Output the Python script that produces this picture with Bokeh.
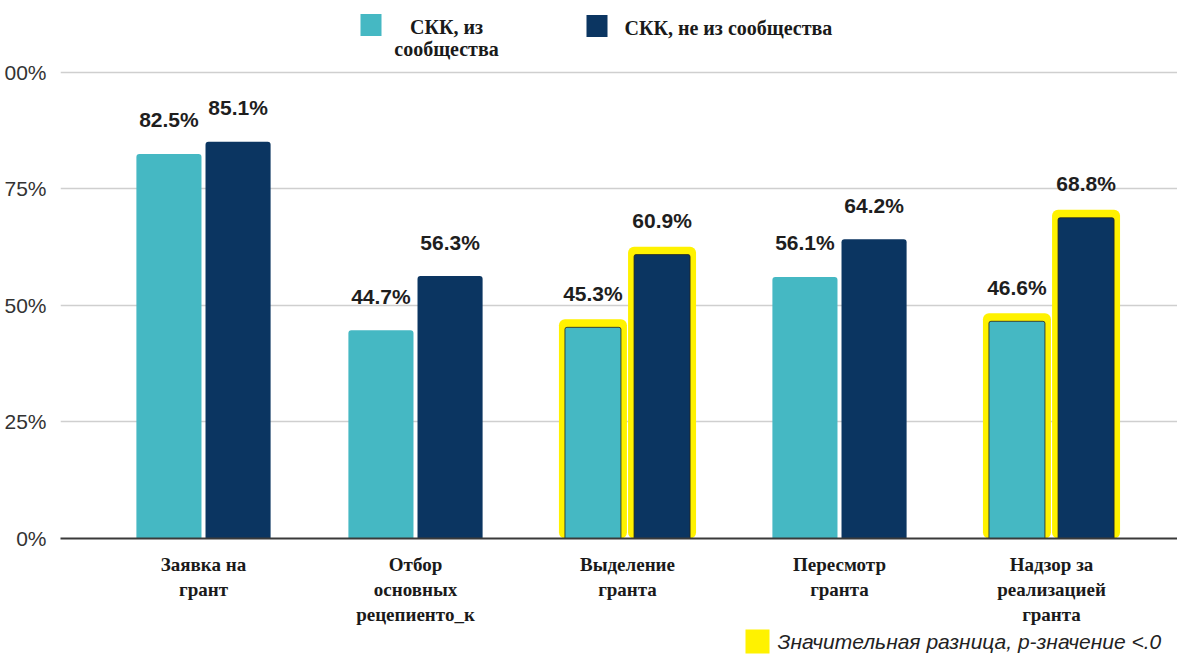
import numpy as np
from bokeh.plotting import figure
from bokeh.layouts import column
from bokeh.models import (ColumnDataSource, Range1d, FixedTicker, LabelSet, Label)
from bokeh.core.properties import value
from bokeh.embed import file_html
from bokeh.resources import INLINE

# ---- data ----
categories = ["Заявка на\nгрант", "Отбор\nосновных\nрецепиенто_к", "Выделение\nгранта",
              "Пересмотр\nгранта", "Надзор за\nреализацией\nгранта"]
community = [82.5, 44.7, 45.3, 56.1, 46.6]
non_community = [85.1, 56.3, 60.9, 64.2, 68.8]
significant = [False, False, True, False, True]
series_names = ["СКК, из\nсообщества", "СКК, не из сообщества"]
y_ticks = [0, 25, 50, 75, 100]
y_tick_labels = ["0%", "25%", "50%", "75%", "00%"]
note_text = "Значительная разница, p-значение <.0"

TEAL = "#45B8C3"
NAVY = "#0B3561"
YELLOW = "#FFF200"

W = 1177
H = 627             # main chart height
NH = 27             # note strip height
PX = 212.0          # pixels per category unit
PY = 4.67           # pixels per percent
LEFT, BOTTOM = 60, 88
X0 = 203            # pixel of first category centre

p = figure(width=W, height=H, output_backend="svg", toolbar_location=None,
           x_range=Range1d((LEFT - X0) / PX, (W - X0) / PX),
           y_range=Range1d(0, (H - BOTTOM) / PY),
           min_border_left=LEFT, min_border_right=0, min_border_top=0,
           min_border_bottom=BOTTOM)
p.outline_line_color = None
p.background_fill_color = "white"
p.border_fill_color = "white"

idx = np.arange(len(categories))
dodge = 0.163
bw = 0.307
xc = idx - dodge
xn = idx + dodge

# plain bars (non-significant groups) and highlighted bars (significant groups)
plain = dict(x=[], top=[], color=[])
hl = dict(x=[], top=[], color=[], ytop=[])
for i, s in enumerate(significant):
    for xv, v, col in ((xc[i], community[i], TEAL), (xn[i], non_community[i], NAVY)):
        d = hl if s else plain
        d["x"].append(xv)
        d["top"].append(v)
        d["color"].append(col)
        if s:
            d["ytop"].append(v + 8 / PY)

p.vbar(x="x", top="top", width=bw, bottom=0, source=ColumnDataSource(plain),
       fill_color="color", line_color=None, border_radius=(3, 3, 0, 0))
hsrc = ColumnDataSource(hl)
p.vbar(x="x", top="ytop", width=68 / PX, bottom=-4, source=hsrc,
       fill_color=YELLOW, line_color=None, border_radius=6)
p.vbar(x="x", top="top", width=56 / PX, bottom=0, source=hsrc,
       fill_color="color", line_color="#222222", line_width=1, line_alpha=0.8,
       border_radius=(2, 2, 0, 0))

# value labels
src = ColumnDataSource(dict(
    xc=xc, xn=xn, c=community, n=non_community,
    lc=[f"{v:.1f}%" for v in community], ln=[f"{v:.1f}%" for v in non_community]))
for xcol, ycol, tcol in (("xc", "c", "lc"), ("xn", "n", "ln")):
    p.add_layout(LabelSet(x=xcol, y=ycol, text=tcol, source=src, y_offset=34,
                          text_align="center", text_baseline="middle",
                          text_font=value("Liberation Sans"), text_font_style="bold",
                          text_font_size="21px", text_color="#1e1e1e"))

# axes
p.yaxis.ticker = FixedTicker(ticks=y_ticks)
p.yaxis.major_label_overrides = {t: l for t, l in zip(y_ticks, y_tick_labels)}
p.yaxis.axis_line_color = None
p.yaxis.major_tick_line_color = None
p.yaxis.minor_tick_line_color = None
p.yaxis.major_label_text_font = "Liberation Sans"
p.yaxis.major_label_text_font_size = "21px"
p.yaxis.major_label_text_color = "#333333"
p.yaxis.major_label_standoff = 8

p.xaxis.ticker = FixedTicker(ticks=list(idx))
p.xaxis.major_label_overrides = {int(i): c for i, c in zip(idx, categories)}
p.xaxis.axis_line_color = "#3a3a3a"
p.xaxis.axis_line_width = 2
p.xaxis.major_tick_line_color = None
p.xaxis.minor_tick_line_color = None
p.xaxis.major_label_text_font = "Liberation Serif"
p.xaxis.major_label_text_font_style = "bold"
p.xaxis.major_label_text_font_size = "19px"
p.xaxis.major_label_text_color = "#1a1a1a"
p.xaxis.major_label_standoff = 9

p.xgrid.grid_line_color = None
p.ygrid.grid_line_color = "#cfcfcf"
p.ygrid.grid_line_width = 1.5

def dx(ref_x):
    return (ref_x - X0) / PX

def dy(ref_y):
    return (H - BOTTOM - ref_y) / PY

# legend
p.rect(x=[dx(370.5), dx(596.5)], y=[dy(24.5), dy(25.5)], width=21, height=22,
       width_units="screen", height_units="screen", fill_color=[TEAL, NAVY],
       line_color=None)
p.add_layout(Label(x=dx(446), y=dy(16), text=series_names[0], text_align="center",
                   text_baseline="top", text_font="Liberation Serif",
                   text_font_style="bold", text_font_size="20px",
                   text_color="#1a1a1a", text_line_height=1.0))
p.add_layout(Label(x=dx(624), y=dy(28), text=series_names[1], text_align="left",
                   text_baseline="middle", text_font="Liberation Serif",
                   text_font_style="bold", text_font_size="20px",
                   text_color="#1a1a1a"))

# significance note (separate strip below the chart, sharing the x scale)
p2 = figure(width=W, height=NH, output_backend="svg", toolbar_location=None,
            x_range=p.x_range, y_range=Range1d(0, NH),
            x_axis_type=None, y_axis_type=None,
            min_border_left=LEFT, min_border_right=0, min_border_top=0,
            min_border_bottom=0)
p2.outline_line_color = None
p2.grid.visible = False
p2.rect(x=[dx(757)], y=[NH - 14], width=24, height=24, width_units="screen",
        height_units="screen", fill_color=YELLOW, line_color=None)
p2.text(x=[dx(777)], y=[NH - 14], text=[note_text], text_align="left",
        text_baseline="middle", text_font=value("Liberation Sans"),
        text_font_style="italic", text_font_size="21px", text_color="#222222")

open("out.html", "w").write(file_html(column(p, p2, spacing=0), INLINE))
